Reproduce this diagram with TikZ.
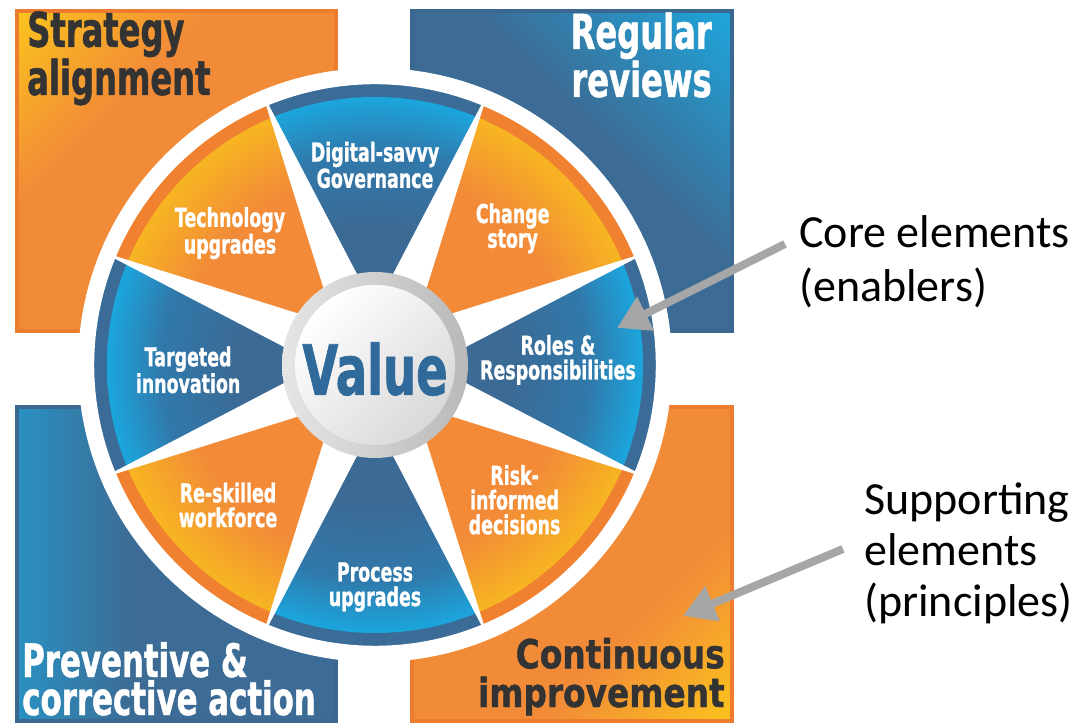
\documentclass[tikz,border=0pt]{standalone}
\usepackage{fontspec}
\usepackage{xcolor}
\usepackage{tikz}
\usetikzlibrary{arrows.meta}

\newfontfamily\heavy{DejaVu Sans}[FakeStretch=0.67, FakeBold=1]
\newfontfamily\heavywide{DejaVu Sans}[FakeStretch=0.82, FakeBold=1]
\newfontfamily\calibri{Carlito}

\definecolor{sqorange}{HTML}{F28B38}
\definecolor{sqyellow}{HTML}{FBC51C}
\definecolor{orangeedge}{HTML}{EE7C2E}
\definecolor{sqblue}{HTML}{3C6C95}
\definecolor{sqcyan}{HTML}{1EA7DD}
\definecolor{blueedge}{HTML}{3A6891}
\definecolor{ringblue}{HTML}{3A6C97}
\definecolor{ringorange}{HTML}{EF8130}
\definecolor{bluedeep}{HTML}{3B6A95}
\definecolor{bluemid}{HTML}{3079AB}
\definecolor{bluelight}{HTML}{1BA6DD}
\definecolor{orangedeep}{HTML}{F28A38}
\definecolor{orangelight}{HTML}{F7B522}
\definecolor{inkdark}{HTML}{333333}
\definecolor{valueblue}{HTML}{2F6A9A}
\definecolor{pointergray}{HTML}{A6A6A6}

\pgfdeclareradialshading{blueglow}{\pgfpoint{0bp}{0bp}}{color(0bp)=(bluedeep); color(13bp)=(bluedeep); color(20bp)=(bluemid); color(25bp)=(bluelight); color(50bp)=(bluelight)}
\pgfdeclareradialshading{orangeglow}{\pgfpoint{0bp}{0bp}}{color(0bp)=(orangedeep); color(18bp)=(orangedeep); color(25bp)=(orangelight); color(50bp)=(orangelight)}
\pgfdeclareverticalshading{orangecorner}{100bp}{color(0bp)=(sqorange); color(64bp)=(sqorange); color(86bp)=(sqyellow); color(100bp)=(sqyellow)}
\pgfdeclareverticalshading{bluecorner}{100bp}{color(0bp)=(sqblue); color(57bp)=(sqblue); color(86bp)=(sqcyan); color(100bp)=(sqcyan)}

\begin{document}
\begin{tikzpicture}[x=0.75pt, y=0.75pt]

        \tikzstyle{corner}     = [line width=3pt]
        \tikzstyle{cornertext} = [inner sep=0pt, font=\heavy\bfseries\fontsize{36}{24}\selectfont]
        \tikzstyle{wheeltext}  = [inner sep=0pt, align=center, text=white, font=\heavy\bfseries\fontsize{19.5}{18.5}\selectfont]
        \tikzstyle{valuetext}  = [inner sep=0pt, text=valueblue, font=\heavy\bfseries\fontsize{52}{52}\selectfont]
        \tikzstyle{sidetext}   = [inner sep=0pt, align=left, font=\calibri\fontsize{34.5}{41}\selectfont]
        \tikzstyle{pointer}    = [draw=pointergray, line width=6pt, -{Triangle[length=24pt, width=27pt]}]

        \useasboundingbox (0,0) rectangle (1084,724);
        \fill[white] (0,0) rectangle (1084,724);

        % corner squares
        \shadedraw[shading=orangecorner, shading angle=45, draw=orangeedge, corner] (17,393) rectangle (336,713);
        \shadedraw[shading=bluecorner, shading angle=-45, draw=blueedge, corner] (412,393) rectangle (732,713);
        \shadedraw[shading=bluecorner, shading angle=90, draw=blueedge, corner] (17,3) rectangle (336,317);
        \shadedraw[shading=orangecorner, shading angle=-135, draw=orangeedge, corner] (412,3) rectangle (732,317);

        \begin{scope}[shift={(375,359)}]

                \fill[white] (0,0) circle (297);

                \foreach \a in {0,45,...,315}
                {
                        \pgfmathtruncatemacro{\m}{mod(\a,90)}
                        \ifnum \m=0
                                \def\band{ringblue}
                                \def\glow{blueglow}
                        \else
                                \def\band{ringorange}
                                \def\glow{orangeglow}
                        \fi

                        \fill[\band] (\a-22.5:282) arc[start angle=\a-22.5, end angle=\a+22.5, radius=282]
                                -- (\a+11.5:90) -- (\a-11.5:90) -- cycle;
                        \begin{scope}
                                \clip (\a-22.5:282) arc[start angle=\a-22.5, end angle=\a+22.5, radius=282]
                                        -- (\a+11.5:90) -- (\a-11.5:90) -- cycle;
                                \shade[shading=\glow] (0,0) circle (268);
                        \end{scope}
                        \draw[white, line width=1.8pt, line join=round] (\a-22.5:282)
                                arc[start angle=\a-22.5, end angle=\a+22.5, radius=282]
                                -- (\a+11.5:90) -- (\a-11.5:90) -- cycle;
                }

                % hub
                \shade[left color=gray!20, right color=gray!55] (0,0) circle (93);
                \shade[top color=white, bottom color=gray!30, shading angle=45] (0,0) circle (80);
                \node[valuetext] (value) at (0,-4) {Value};

                \node[wheeltext] (dgov)    at (90:200)    {Digital-savvy\\Governance};
                \node[wheeltext] (change)  at (44.8:194)  {Change\\story};
                \node[wheeltext] (roles)   at (1.6:183)   {Roles \&\\Responsibilities};
                \node[wheeltext] (risk)    at (-44:194)   {Risk-\\informed\\decisions};
                \node[wheeltext] (process) at (-90:222)   {Process\\upgrades};
                \node[wheeltext] (skilled) at (223.6:203) {Re-skilled\\workforce};
                \node[wheeltext] (target)  at (181.5:187) {Targeted\\innovation};
                \node[wheeltext] (tech)    at (137.7:196) {Technology\\upgrades};
        \end{scope}

        \node[cornertext, text=inkdark, anchor=base west, align=left] (strategy) at (27,629) {Strategy\\alignment};
        \node[cornertext, text=white, anchor=base east, align=right] (reviews) at (712,627) {Regular\\reviews};
        \node[cornertext, text=white, anchor=base west, align=left,
                font=\heavy\bfseries\fontsize{34.5}{28.5}\selectfont] (action) at (22,9) {Preventive \&\\corrective action};
        \node[cornertext, text=inkdark, anchor=base east, align=right,
                font=\heavywide\bfseries\fontsize{30}{29}\selectfont] (improve) at (725,17) {Continuous\\improvement};

        \node[sidetext, anchor=base west] (core) at (799,422) {Core elements\\(enablers)};
        \node[sidetext, anchor=base west, font=\calibri\fontsize{34.5}{38.5}\selectfont] (support) at (864,107) {Supporting\\elements\\(principles)};

        \coordinate (coreTip) at (617,396);
        \coordinate (supportTip) at (683,108);
        \draw[pointer] ([shift={(-14,58)}]core.base west) -- (coreTip);
        \draw[pointer] ([shift={(-21,68)}]support.base west) -- (supportTip);

\end{tikzpicture}
\end{document}
